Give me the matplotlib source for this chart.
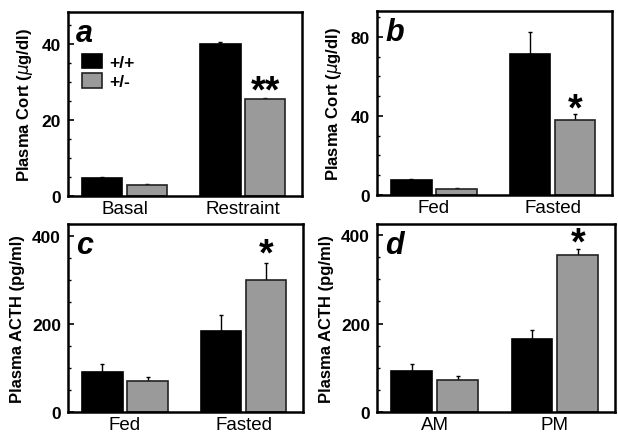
import matplotlib
matplotlib.use('Agg')
import matplotlib.pyplot as plt
from matplotlib.ticker import MultipleLocator

plt.rcParams['font.family'] = ['Liberation Sans', 'DejaVu Sans']

# panel data: +/+ (black) and +/- (gray) means and upward errors
cats_a = ['Basal', 'Restraint']
wt_a = [4.8, 40.0]
het_a = [2.9, 25.5]
wt_err_a = [0.3, 0.6]
het_err_a = [0.2, 0.3]

cats_b = ['Fed', 'Fasted']
wt_b = [7.6, 71.3]
het_b = [3.0, 37.7]
wt_err_b = [0.6, 11.2]
het_err_b = [0.5, 3.0]

cats_c = ['Fed', 'Fasted']
wt_c = [91, 184]
het_c = [70, 300]
wt_err_c = [18, 36]
het_err_c = [10, 38]

cats_d = ['AM', 'PM']
wt_d = [93, 164]
het_d = [73, 355]
wt_err_d = [16, 22]
het_err_d = [9, 13]

legend_labels = ['+/+', '+/-']

W, H = 618, 435
fig = plt.figure(figsize=(W / 100, H / 100), dpi=100)


def px_axes(left, top, right, bottom):
    return fig.add_axes([left / W, 1 - bottom / H, (right - left) / W, (bottom - top) / H])


def panel(ax, cats, wt, het, wt_err, het_err, ymax, major, minor, ylabel, letter, stars, star_y):
    x = [0, 1]
    bw = 0.34
    off = 0.19
    xw = [i - off for i in x]
    xh = [i + off for i in x]
    ax.bar(xw, wt, bw, color='black', edgecolor='black', linewidth=1.2, zorder=2,
           label=legend_labels[0])
    ax.bar(xh, het, bw, color='#9a9a9a', edgecolor='#222222', linewidth=1.2, zorder=2,
           label=legend_labels[1])
    ax.errorbar(xw, wt, yerr=[[0, 0], wt_err], fmt='none', ecolor='black',
                elinewidth=1, capsize=1.5, zorder=1)
    ax.errorbar(xh, het, yerr=[[0, 0], het_err], fmt='none', ecolor='black',
                elinewidth=1, capsize=1.5, zorder=1)
    ax.set_xlim(-0.48, 1.5)
    ax.set_ylim(0, ymax)
    ax.yaxis.set_major_locator(MultipleLocator(major))
    ax.yaxis.set_minor_locator(MultipleLocator(minor))
    ax.tick_params(axis='y', which='major', direction='in', length=4, width=1.2,
                   labelsize=12.5, pad=5)
    ax.tick_params(axis='y', which='minor', direction='in', length=2.5, width=1)
    for t in ax.get_yticklabels():
        t.set_fontweight('bold')
    ax.set_xticks(x)
    ax.set_xticklabels(cats, fontsize=13.5)
    ax.tick_params(axis='x', length=0, pad=3)
    for s in ax.spines.values():
        s.set_linewidth(1.8)
    ax.set_ylabel(ylabel, fontsize=12, fontweight='bold', labelpad=5)
    ax.text(0.035, 0.97, letter, transform=ax.transAxes, fontsize=22,
            fontweight='bold', fontstyle='italic', va='top', ha='left')
    ax.text(xh[1], star_y, stars, fontsize=27, fontweight='bold', ha='center', va='center')


ax_a = px_axes(68, 13, 302, 197)
panel(ax_a, cats_a, wt_a, het_a, wt_err_a, het_err_a, 48.5, 20, 5,
      'Plasma Cort ($\\mu$g/dl)', 'a', '**', 27.5)
leg = ax_a.legend(loc='upper left', bbox_to_anchor=(0.01, 0.84), frameon=False,
                  handlelength=1.1, handleheight=0.9, handletextpad=0.45,
                  borderpad=0.2, labelspacing=0.2, prop={'weight': 'bold', 'size': 12.5})

ax_b = px_axes(377, 12, 612, 196)
panel(ax_b, cats_b, wt_b, het_b, wt_err_b, het_err_b, 93, 40, 10,
      'Plasma Cort ($\\mu$g/dl)', 'b', '*', 43)

ax_c = px_axes(68, 225, 303, 413)
panel(ax_c, cats_c, wt_c, het_c, wt_err_c, het_err_c, 427, 200, 50,
      'Plasma ACTH (pg/ml)', 'c', '*', 357)

ax_d = px_axes(377, 225, 615, 413)
panel(ax_d, cats_d, wt_d, het_d, wt_err_d, het_err_d, 425, 200, 50,
      'Plasma ACTH (pg/ml)', 'd', '*', 380)

fig.savefig('out.png', dpi=100)
